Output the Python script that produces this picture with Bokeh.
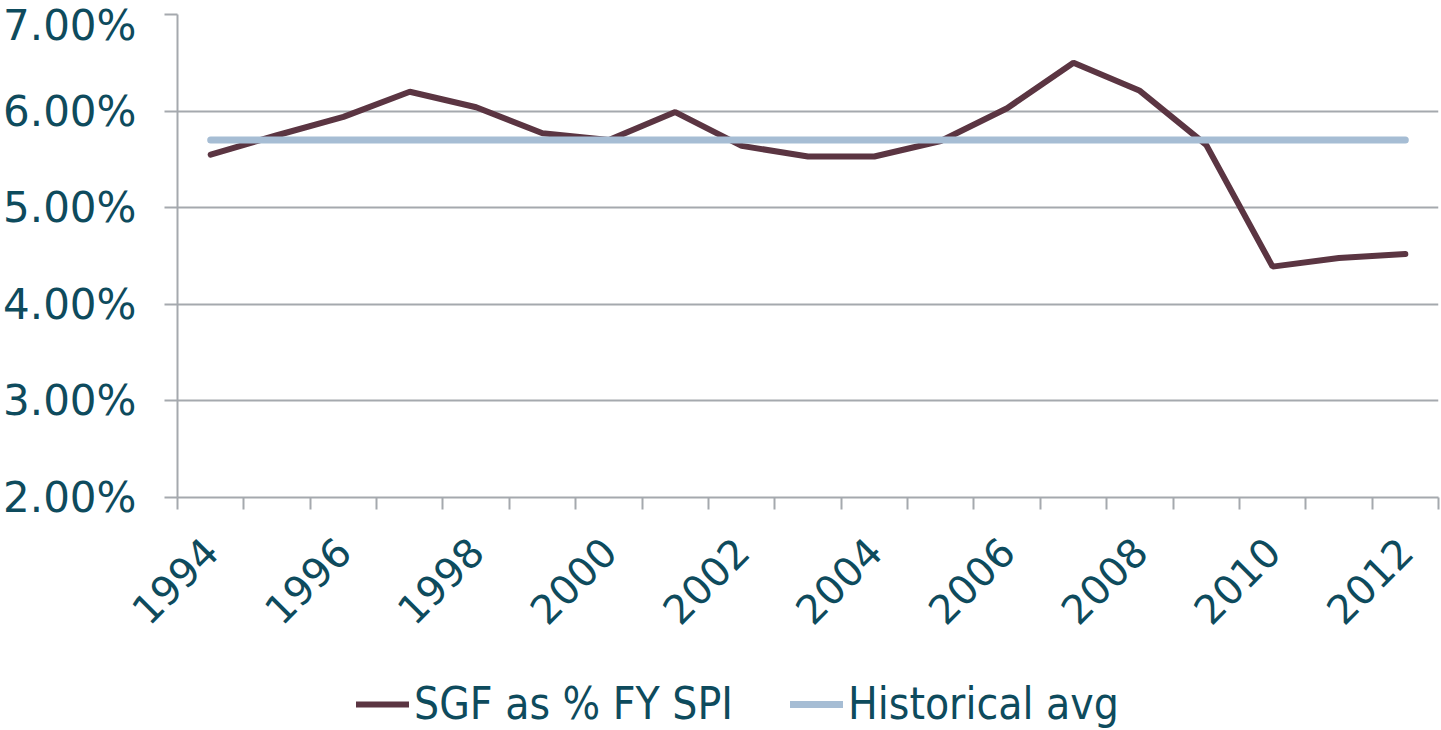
import math
from bokeh.plotting import figure
from bokeh.layouts import column
from bokeh.models import FixedTicker, Legend, LegendItem, Range1d, PrintfTickFormatter
from bokeh.embed import file_html
from bokeh.resources import INLINE

# ---- data ----
years = [1994, 1995, 1996, 1997, 1998, 1999, 2000, 2001, 2002, 2003,
         2004, 2005, 2006, 2007, 2008, 2009, 2010, 2011, 2012]
sgf_pct = [5.55, 5.75, 5.94, 6.20, 6.04, 5.77, 5.70, 5.99, 5.64, 5.53,
           5.53, 5.69, 6.03, 6.50, 6.21, 5.65, 4.39, 4.48, 4.52]
hist_avg = [5.70, 5.70, 5.70, 5.70, 5.70, 5.70, 5.70, 5.70, 5.70, 5.70,
            5.70, 5.70, 5.70, 5.70, 5.70, 5.70, 5.70, 5.70, 5.70]
y_ticks = [2, 3, 4, 5, 6, 7]
x_label_years = [1994, 1996, 1998, 2000, 2002, 2004, 2006, 2008, 2010, 2012]
series_labels = ["SGF as % FY SPI", "Historical avg"]

# ---- styles ----
TEXT = "#0e4b5d"
GRID = "#a5a9ae"
MAROON = "#5b3542"
BLUE = "#a6bdd4"

p = figure(width=1441, height=660, output_backend="svg", toolbar_location=None,
           x_range=Range1d(years[0] - 0.5, years[-1] + 0.5),
           y_range=Range1d(y_ticks[0], y_ticks[-1]),
           min_border_left=176, min_border_right=3, min_border_top=14,
           min_border_bottom=163)
p.outline_line_color = None
p.background_fill_color = "white"
p.border_fill_color = "white"

r1 = p.line(years, sgf_pct, line_color=MAROON, line_width=6, line_cap="round")
r2 = p.line(years, hist_avg, line_color=BLUE, line_width=7, line_cap="round")

# x axis
boundaries = [y - 0.5 for y in years] + [years[-1] + 0.5]
p.xaxis.ticker = FixedTicker(ticks=x_label_years, minor_ticks=boundaries)
p.xaxis.major_label_overrides = {y: str(y) for y in x_label_years}
p.xaxis.major_label_orientation = math.pi / 4
p.xaxis.major_tick_line_color = None
p.xaxis.major_tick_out = 0
p.xaxis.major_tick_in = 0
p.xaxis.minor_tick_line_color = GRID
p.xaxis.minor_tick_line_width = 2
p.xaxis.minor_tick_out = 12
p.xaxis.minor_tick_in = 0
p.xaxis.axis_line_color = GRID
p.xaxis.axis_line_width = 2
p.xaxis.major_label_standoff = 35
p.xaxis.major_label_text_font = "DejaVu Sans"
p.xaxis.major_label_text_font_size = "40px"
p.xaxis.major_label_text_color = TEXT
p.xgrid.visible = False

# y axis
p.yaxis.ticker = FixedTicker(ticks=y_ticks, minor_ticks=[])
p.yaxis.formatter = PrintfTickFormatter(format="%.2f%%")
p.yaxis.major_tick_out = 13
p.yaxis.major_tick_in = 0
p.yaxis.major_tick_line_color = GRID
p.yaxis.major_tick_line_width = 2
p.yaxis.minor_tick_line_color = None
p.yaxis.axis_line_color = GRID
p.yaxis.axis_line_width = 2
p.yaxis.major_label_standoff = 28
p.yaxis.major_label_text_font = "DejaVu Sans"
p.yaxis.major_label_text_font_size = "42px"
p.yaxis.major_label_text_color = TEXT
p.ygrid.grid_line_color = GRID
p.ygrid.grid_line_width = 2

# ---- legend strip below the chart ----
lg = figure(width=1441, height=70, output_backend="svg", toolbar_location=None,
            x_range=Range1d(0, 1), y_range=Range1d(0, 1),
            min_border_left=0, min_border_right=0, min_border_top=0,
            min_border_bottom=0)
lg.axis.visible = False
lg.grid.visible = False
lg.outline_line_color = None
# same series, outside this strip's visible ranges: used only for legend samples
k1 = lg.line(years, sgf_pct, line_color=MAROON, line_width=6, line_cap="round")
k2 = lg.line(years, hist_avg, line_color=BLUE, line_width=7, line_cap="round")
legend = Legend(items=[LegendItem(label=series_labels[0], renderers=[k1]),
                       LegendItem(label=series_labels[1], renderers=[k2])],
                orientation="horizontal", location=(179, 1),
                border_line_color=None, background_fill_alpha=0,
                padding=0, margin=0, spacing=57,
                glyph_width=53, glyph_height=20, label_standoff=5,
                label_height=50,
                label_text_font="DejaVu Sans Condensed, Liberation Sans",
                label_text_font_size="44px", label_text_color=TEXT)
lg.add_layout(legend, "center")

layout = column(p, lg, spacing=0)
open("out.html", "w").write(file_html(layout, INLINE))
